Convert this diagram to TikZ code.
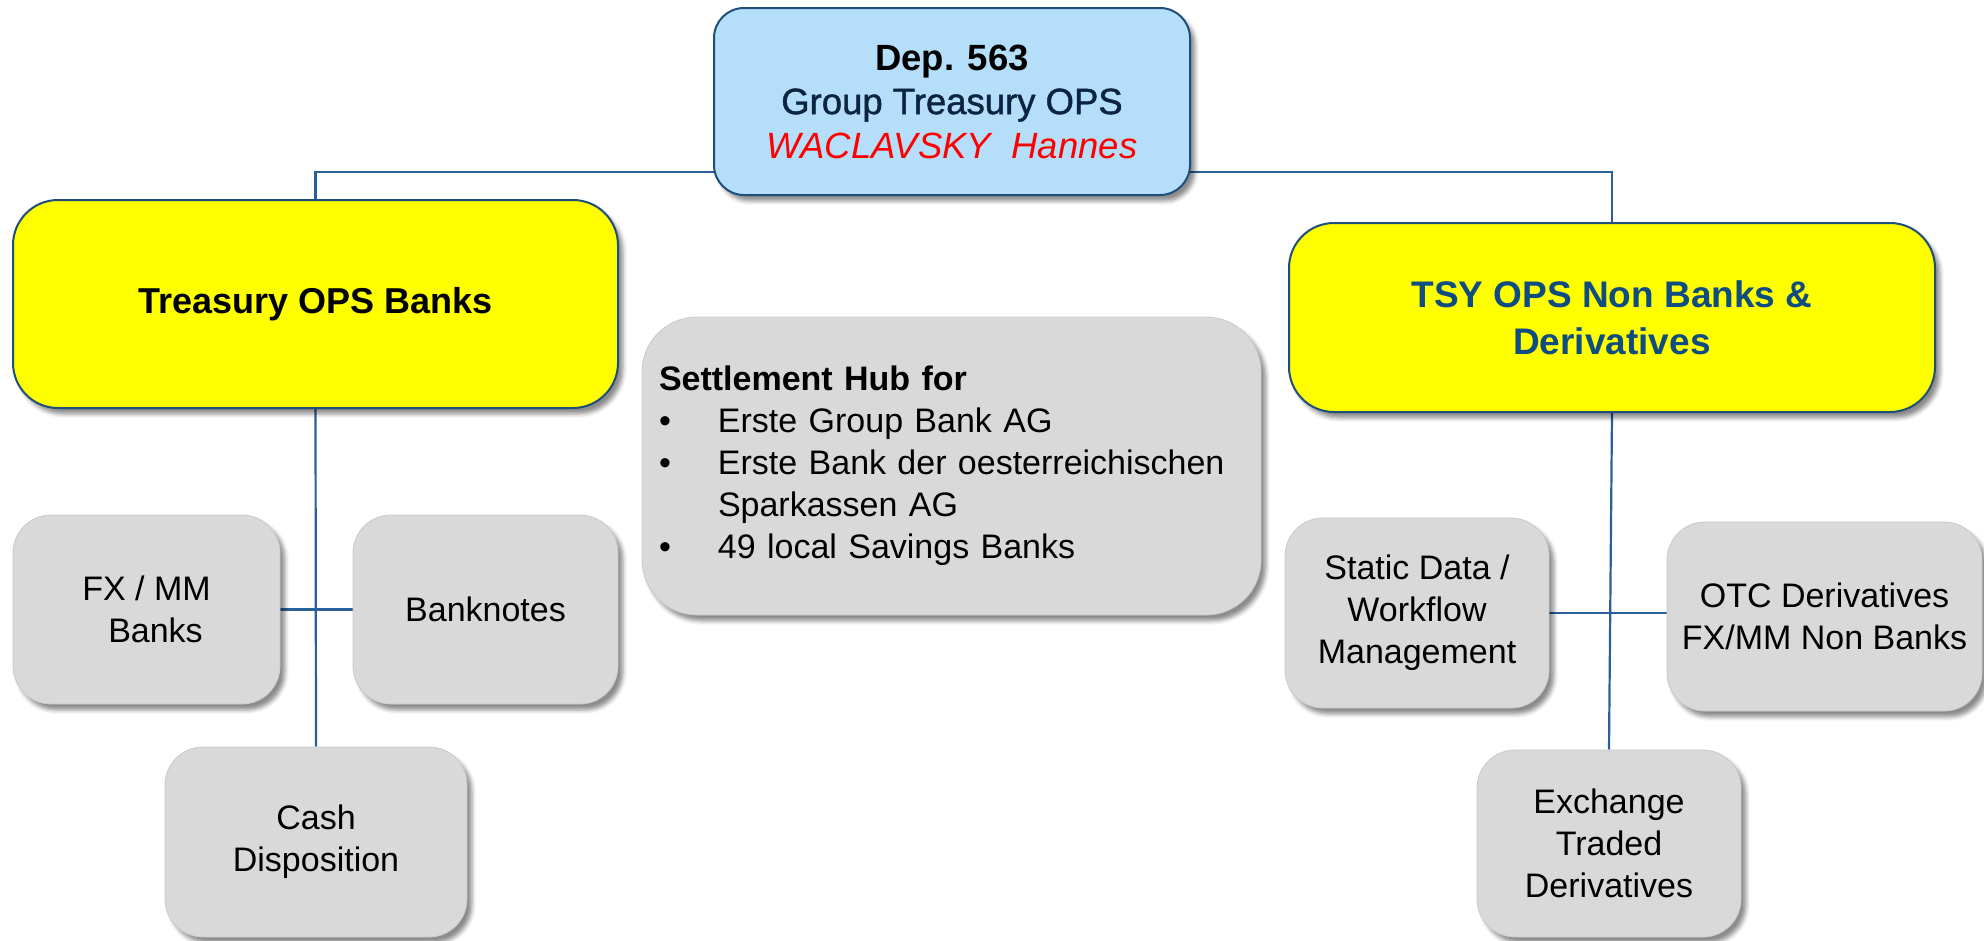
\documentclass[tikz,border=0pt]{standalone}
\usepackage{fontspec}
\setmainfont{Liberation Sans}
\newfontfamily\heavyfont[FakeBold=1.2]{Liberation Sans}
\usetikzlibrary{shadows.blur,backgrounds}
\definecolor{boxblue}{HTML}{B4DEFA}
\definecolor{edgeblue}{HTML}{1F4E79}
\definecolor{linkblue}{HTML}{2A6099}
\definecolor{grayfill}{HTML}{D9D9D9}
\definecolor{grayedge}{HTML}{CACACA}
\definecolor{ryeltext}{HTML}{0F4C81}
\definecolor{navytext}{HTML}{0B2440}
\definecolor{pureyellow}{HTML}{FFFF00}
\definecolor{purered}{HTML}{FF0000}
\tikzset{
  base/.style={inner sep=0pt, align=center,
    blur shadow={shadow xshift=5pt, shadow yshift=-6pt, shadow blur radius=4pt, shadow opacity=45}},
  topbox/.style={base, draw=edgeblue, line width=2pt, fill=boxblue, rounded corners=30pt},
  yelbox/.style={base, draw=edgeblue, line width=2pt, fill=pureyellow, rounded corners=45pt},
  graybox/.style={base, draw=grayedge, line width=0.8pt, fill=grayfill, rounded corners=38pt,
    font=\fontsize{34}{42}\selectfont},
  link/.style={draw=linkblue, line width=2.2pt},
}
\begin{document}
\begin{tikzpicture}[x=1pt,y=-1pt]
\useasboundingbox (0,0) rectangle (1984,940);

\node[topbox, minimum width=476pt, minimum height=187pt,
  font=\fontsize{36.5}{44}\selectfont] (top) at (952,101.5)
  {\textbf{Dep. 563}\\ \textcolor{navytext}{\heavyfont Group Treasury OPS}\\ \textcolor{purered}{\itshape WACLAVSKY\ \ Hannes}};

\node[yelbox, minimum width=605pt, minimum height=208pt,
  font=\fontsize{36}{44}\selectfont\bfseries] (lyel) at (315.5,304) {Treasury OPS Banks};

\node[yelbox, minimum width=646pt, minimum height=189pt, text=ryeltext,
  font=\fontsize{37}{47}\selectfont\bfseries] (ryel) at (1612,317.5) {TSY OPS Non Banks \&\\Derivatives};

\node[graybox, rounded corners=55pt, minimum width=619pt, minimum height=298pt,
  text width=585pt, align=left, inner xsep=17pt] (hub) at (951.5,466)
  {\textbf{Settlement Hub for}\\
   \makebox[59pt][l]{\textbullet}Erste Group Bank AG\\
   \makebox[59pt][l]{\textbullet}Erste Bank der oesterreichischen\\
   \hspace*{59pt}Sparkassen AG\\
   \makebox[59pt][l]{\textbullet}49 local Savings Banks};

\node[graybox, minimum width=267pt, minimum height=189pt] (fx) at (146.5,609.5) {FX / MM\\\hspace*{18pt}Banks};
\node[graybox, minimum width=265pt, minimum height=189pt] (bank) at (485.5,609.5) {Banknotes};
\node[graybox, minimum width=302pt, minimum height=190pt] (cash) at (316,842) {Cash\\Disposition};

\node[graybox, minimum width=264pt, minimum height=190pt] (static) at (1417,613) {Static Data /\\Workflow\\Management};
\node[graybox, minimum width=315pt, minimum height=189pt] (otc) at (1824.5,616.5) {OTC Derivatives\\FX/MM Non Banks};
\node[graybox, minimum width=264pt, minimum height=187pt] (exch) at (1609,843.5) {Exchange\\Traded\\Derivatives};

\begin{pgfonlayer}{background}
  \coordinate (bar) at (952,172);
  \draw[link] (lyel.north) |- (bar) -| (ryel.north);
  \draw[link] (lyel.south) -- (cash.north);
  \draw[link] (fx.east) -- (bank.west);
  \draw[link] (ryel.south) -- (exch.north);
  \draw[link] (static.east) -- (static.east -| otc.west);
\end{pgfonlayer}
\end{tikzpicture}
\end{document}
